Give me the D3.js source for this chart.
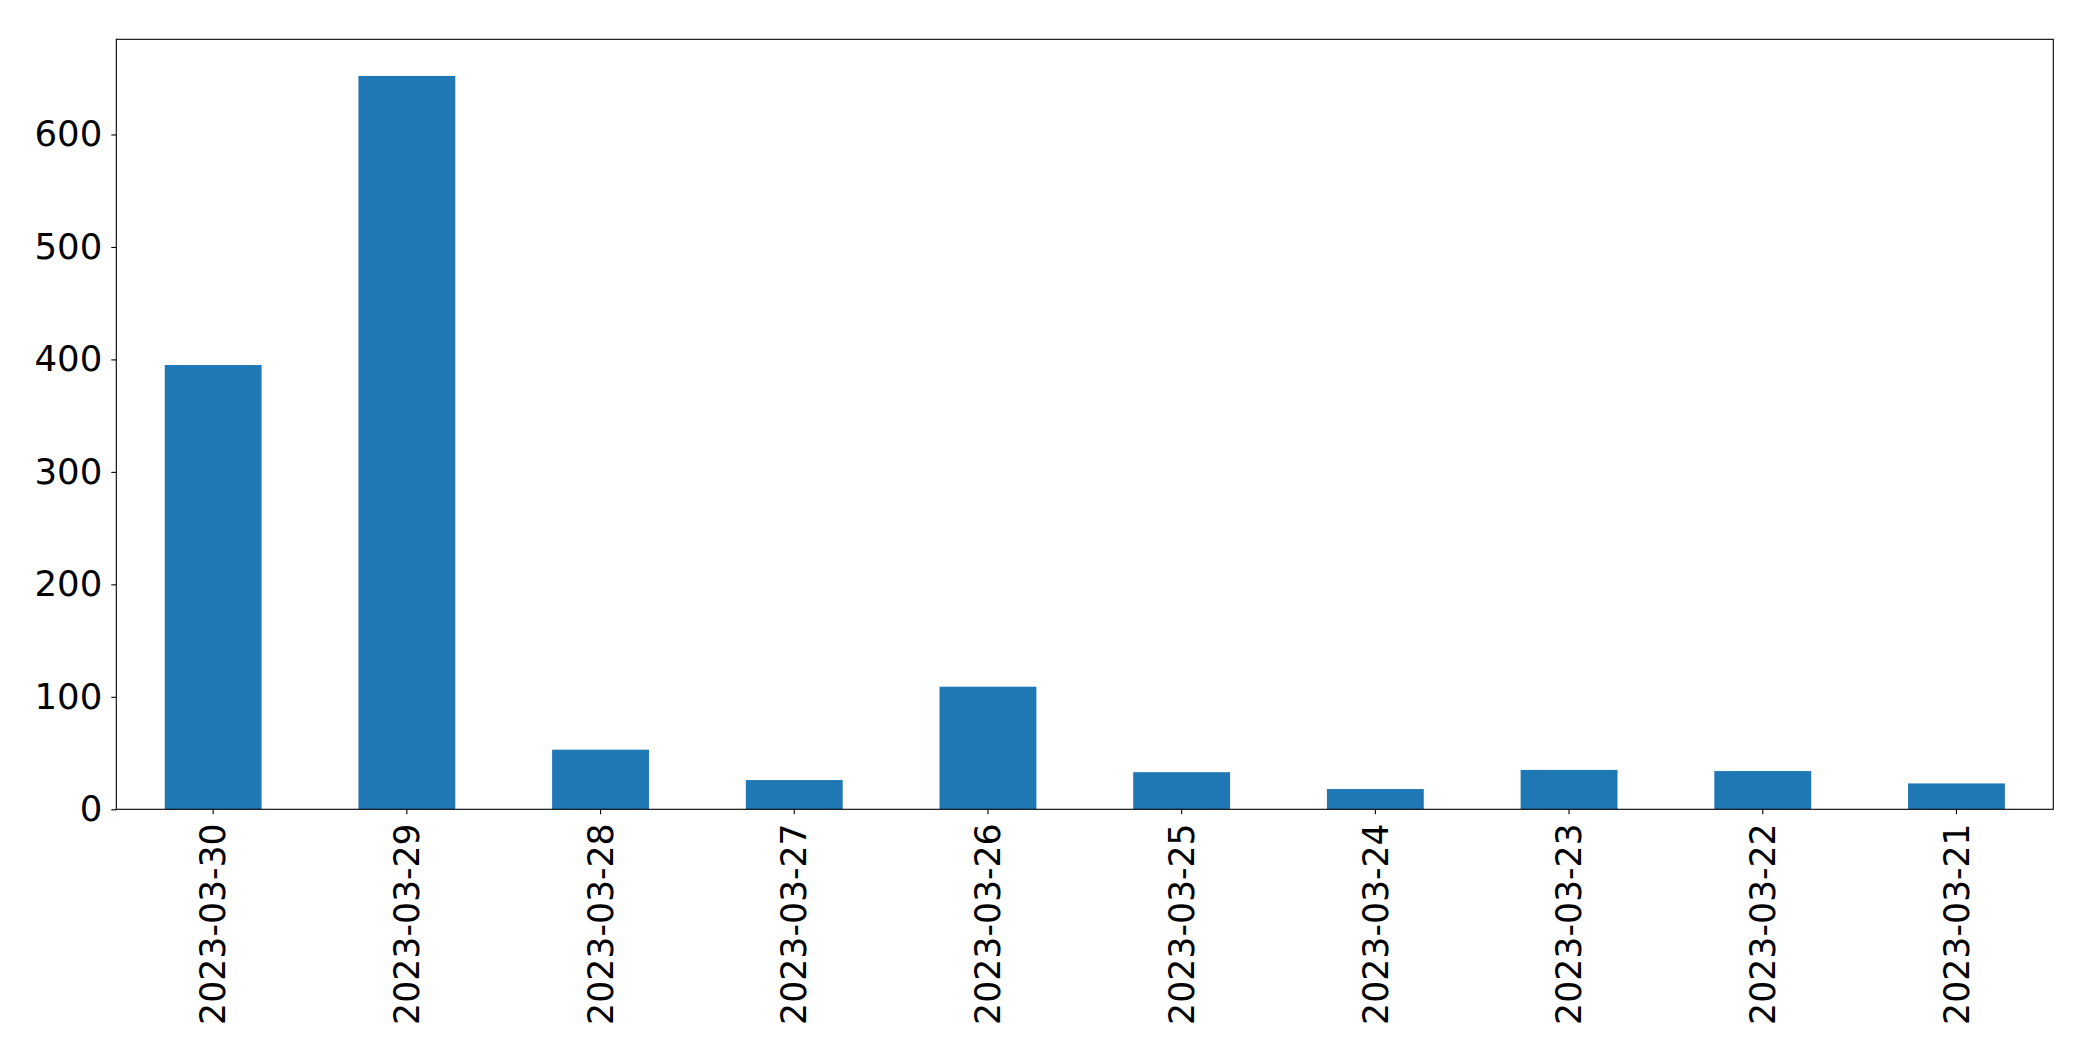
<!DOCTYPE html>
<html>
<head>
<meta charset="utf-8">
<script src="https://cdn.jsdelivr.net/npm/d3@7"></script>
<style>
  html, body { margin: 0; padding: 0; background: #fff; }
  svg { display: block; }
</style>
</head>
<body>
<script>
const categories = ["2023-03-30", "2023-03-29", "2023-03-28", "2023-03-27", "2023-03-26",
                    "2023-03-25", "2023-03-24", "2023-03-23", "2023-03-22", "2023-03-21"];
const values = [395, 652, 53, 26, 109, 33, 18, 35, 34, 23];
const yTicks = [0, 100, 200, 300, 400, 500, 600];

const W = 2093, H = 1061;
const margin = { left: 116.3, right: W - 2053.3, top: 39.3, bottom: H - 809.3 };
const fontSize = 34.7;

const svg = d3.select("body").append("svg")
  .attr("width", W).attr("height", H);

const x = d3.scaleBand()
  .domain(categories)
  .range([margin.left, W - margin.right])
  .paddingInner(0.5)
  .paddingOuter(0.25);

const y = d3.scaleLinear()
  .domain([0, d3.max(values) * 1.05])
  .range([H - margin.bottom, margin.top]);

svg.append("g")
  .selectAll("rect")
  .data(values)
  .join("rect")
  .attr("x", (d, i) => x(categories[i]))
  .attr("width", x.bandwidth())
  .attr("y", d => y(d))
  .attr("height", d => y(0) - y(d))
  .attr("fill", "#1f77b4");

const yAxis = svg.append("g")
  .attr("transform", `translate(${margin.left},0)`)
  .call(d3.axisLeft(y).tickValues(yTicks).tickSize(5).tickPadding(9).tickFormat(d3.format("d")));
yAxis.select(".domain").remove();
yAxis.selectAll("text")
  .attr("font-family", "DejaVu Sans")
  .attr("font-size", 35.5)
  .attr("fill", "#000");
yAxis.selectAll("line").attr("stroke", "#000").attr("stroke-width", 1.1);

const xAxis = svg.append("g")
  .attr("transform", `translate(0,${H - margin.bottom})`)
  .call(d3.axisBottom(x).tickSize(5).tickPadding(0));
xAxis.select(".domain").remove();
xAxis.selectAll("line").attr("stroke", "#000").attr("stroke-width", 1.1);
xAxis.selectAll("text")
  .attr("font-family", "DejaVu Sans")
  .attr("font-size", fontSize)
  .attr("fill", "#000")
  .attr("text-anchor", "end")
  .attr("transform", "rotate(-90)")
  .attr("x", -14)
  .attr("y", 0)
  .attr("dy", "0.35em");

// frame
svg.append("rect")
  .attr("x", margin.left)
  .attr("y", margin.top)
  .attr("width", W - margin.left - margin.right)
  .attr("height", H - margin.top - margin.bottom)
  .attr("fill", "none")
  .attr("stroke", "#000")
  .attr("stroke-width", 1.1);
</script>
</body>
</html>
